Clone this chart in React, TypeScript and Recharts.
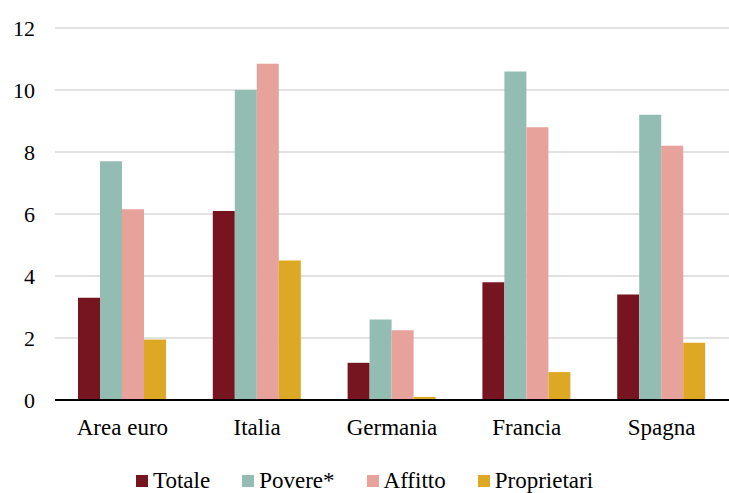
import React, { useEffect, useState } from 'react';
import { BarChart, Bar, XAxis, YAxis, CartesianGrid } from 'recharts';

const categories = ['Area euro', 'Italia', 'Germania', 'Francia', 'Spagna'];
const totale = [3.3, 6.1, 1.2, 3.8, 3.4];
const povere = [7.7, 10.0, 2.6, 10.6, 9.2];
const affitto = [6.15, 10.85, 2.25, 8.8, 8.2];
const proprietari = [1.95, 4.5, 0.1, 0.9, 1.85];
const yTicks = [0, 2, 4, 6, 8, 10, 12];

const series = [
  { key: 'totale', name: 'Totale', color: '#76151f', values: totale },
  { key: 'povere', name: 'Povere*', color: '#93bdb2', values: povere },
  { key: 'affitto', name: 'Affitto', color: '#e8a29c', values: affitto },
  { key: 'proprietari', name: 'Proprietari', color: '#dda924', values: proprietari },
];

const data = categories.map((c, i) => {
  const row: Record<string, string | number> = { name: c };
  series.forEach((s) => { row[s.key] = s.values[i]; });
  return row;
});

const font = 'Liberation Serif, Tinos, Times New Roman, serif';

export default function App() {
  // system fonts sometimes arrive late, so draw again once they are ready
  const [ready, setReady] = useState(false);
  useEffect(() => {
    if (document.fonts && document.fonts.ready) {
      document.fonts.ready.then(() => setReady(true));
    } else {
      setReady(true);
    }
  }, []);

  return (
    <div key={ready ? 'r' : 'n'} style={{ position: 'absolute', left: 0, top: 0, width: 729, height: 493, background: '#fff', fontFamily: font }}>
      <BarChart
        width={729}
        height={493}
        data={data}
        margin={{ top: 28, right: 0, bottom: 0, left: 0 }}
        barGap={0}
        barCategoryGap={23}
        style={{ fontFamily: font }}
      >
        <CartesianGrid vertical={false} stroke="#d9d9d9" strokeWidth={1.5} />
        <XAxis
          dataKey="name"
          height={93}
          axisLine={{ stroke: '#000', strokeWidth: 2 }}
          tickLine={false}
          tickMargin={13}
          tick={{ fill: '#000', fontSize: 23, fontFamily: font }}
        />
        <YAxis
          width={55}
          domain={[0, 12]}
          ticks={yTicks}
          axisLine={false}
          tickLine={false}
          tickMargin={14}
          tick={{ fill: '#000', fontSize: 22, fontFamily: font }}
        />
        {series.map((s) => (
          <Bar key={s.key} dataKey={s.key} name={s.name} fill={s.color} isAnimationActive={false} />
        ))}
      </BarChart>
      <div
        style={{
          position: 'absolute',
          top: 466,
          left: 136,
          display: 'flex',
          alignItems: 'center',
          fontSize: 23,
          lineHeight: '30px',
          fontFamily: font,
          color: '#000',
          whiteSpace: 'nowrap',
        }}
      >
        {series.map((s) => (
          <div key={s.key} style={{ display: 'flex', alignItems: 'center', marginRight: 32 }}>
            <span style={{ display: 'inline-block', width: 12, height: 12, background: s.color, marginRight: 5 }} />
            <span>{s.name}</span>
          </div>
        ))}
      </div>
    </div>
  );
}
